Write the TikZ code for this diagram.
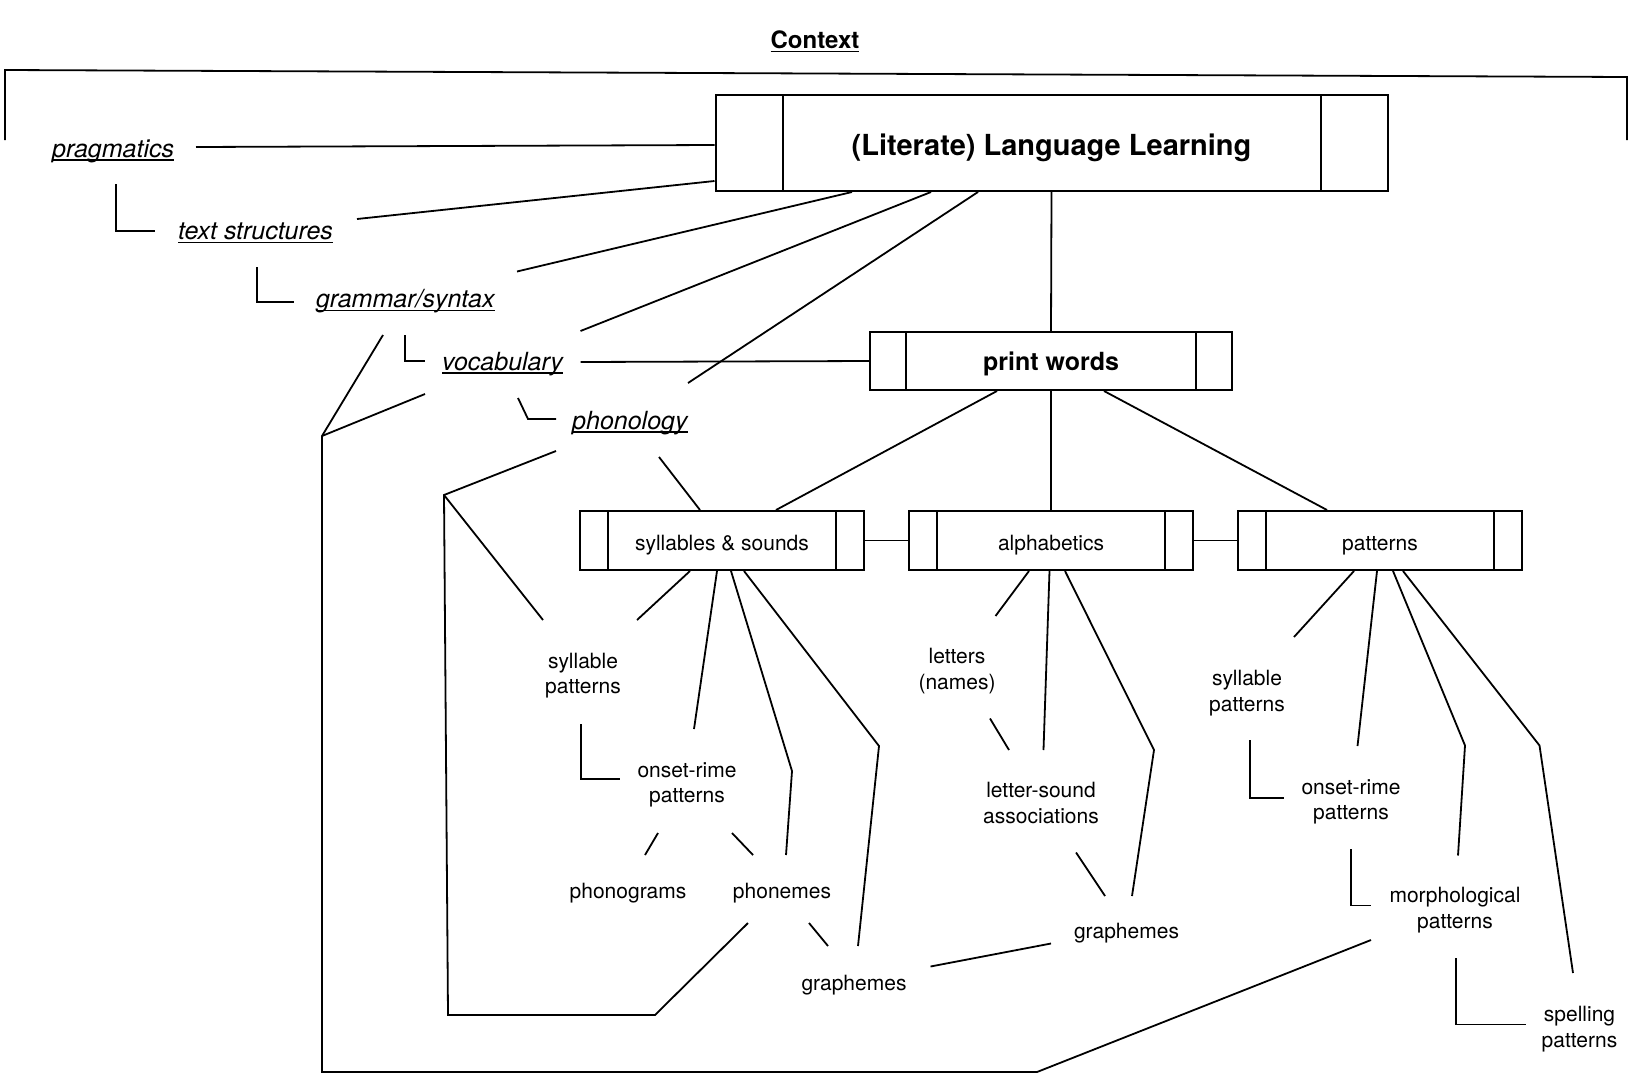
\documentclass[tikz,border=0pt]{standalone}
\usepackage{fontspec}
\setmainfont{TeX Gyre Heros}
\usetikzlibrary{calc}

\newcommand\ulword[1]{\setbox0\hbox{#1}\rlap{\rule[-3.5pt]{\wd0}{1.5pt}}\box0}

\begin{document}
\begin{tikzpicture}[
    x=1pt, y=-1pt,
    link/.style={line width=1.8pt},
    procbox/.style={draw, line width=2pt, inner sep=0pt, minimum width=284pt, minimum height=59pt,
        text height=20pt, text depth=0pt,
        font=\fontsize{21}{25}\selectfont,
        path picture={
            \draw[line width=2pt] ([xshift=#1]path picture bounding box.north west) -- ([xshift=#1]path picture bounding box.south west);
            \draw[line width=2pt] ([xshift=-#1]path picture bounding box.north east) -- ([xshift=-#1]path picture bounding box.south east);}},
    procbox/.default=28pt,
    topic/.style={font=\fontsize{25}{30}\selectfont\itshape, inner sep=0pt, anchor=base west},
    leaf/.style={font=\fontsize{21}{25.5}\selectfont, inner sep=0pt, align=center, yshift=-2pt}
]
\useasboundingbox (0,0) rectangle (1635,1079);

% Heading and frame
\node[font=\fontsize{24}{28}\selectfont\bfseries, inner sep=0pt, anchor=base] (ctx) at (815,48.5) {\ulword{Context}};
\draw[link] (5,140) -- (5,70) -- (1627,77) -- (1627,140);

% Boxes
\node[procbox=67pt, minimum width=672pt, minimum height=96pt, text height=25pt, font=\fontsize{29}{34}\selectfont\bfseries] (lll) at (1051.5,143) {(Literate) Language Learning};
\node[procbox=36pt, minimum width=361.5pt, minimum height=58pt, text height=18.5pt, font=\fontsize{25}{30}\selectfont\bfseries] (pw) at (1051,361) {print words};
\node[procbox] (ss) at (722,540.5) {syllables \& sounds};
\node[procbox] (alph) at (1051,540.5) {alphabetics};
\node[procbox] (pat) at (1380,540.5) {patterns};

% Context levels
\node[topic] (prag) at (52,157) {\ulword{pragmatics}};
\node[topic] (txt) at (178,239.5) {\ulword{text structures}};
\node[topic] (gram) at (316,307.5) {\ulword{grammar/syntax}};
\node[topic] (vocab) at (442,370) {\ulword{vocabulary}};
\node[topic] (phon) at (572,429) {\ulword{phonology}};

% Leaves
\node[leaf] (sylA) at (583,673.5) {syllable\\patterns};
\node[leaf] (onsA) at (687,783) {onset-rime\\patterns};
\node[leaf] (phgram) at (628,891) {phonograms};
\node[leaf] (phnm) at (782,891) {phonemes};
\node[leaf] (graA) at (854,983.5) {graphemes};
\node[leaf] (lett) at (957,669) {letters\\(names)};
\node[leaf] (lsnd) at (1041,801) {letter-sound\\associations};
\node[leaf] (graB) at (1126.5,931) {graphemes};
\node[leaf] (sylB) at (1247,691) {syllable\\patterns};
\node[leaf] (onsB) at (1351,800) {onset-rime\\patterns};
\node[leaf] (morph) at (1455,908) {morphological\\patterns};
\node[leaf] (spell) at (1579.5,1027) {spelling\\patterns};

% Free ends
\coordinate (pragR) at (196,147);
\coordinate (txtR) at (357,219);
\coordinate (gramR) at (517,271.5);
\coordinate (vocR) at (580.5,331);
\coordinate (vocE) at (580.5,362);
\coordinate (phonR) at (688,383);
\coordinate (phonS) at (659,457);
\coordinate (phonL) at (556,451);
\coordinate (gramL) at (383,335);
\coordinate (vocL) at (425,394);
\coordinate (knotA) at (444,495);
\coordinate (knotB) at (322,436);
\coordinate (loopA1) at (448,1015);
\coordinate (loopA2) at (655,1015);
\coordinate (loopB1) at (322,1072);
\coordinate (loopB2) at (1037,1072);
\coordinate (morphL) at (1371,940);
\coordinate (sylA1) at (543,620);
\coordinate (sylA2) at (637,620);
\coordinate (sylA3) at (581,724);
\coordinate (onsA1) at (694,729);
\coordinate (onsA2) at (620,779);
\coordinate (onsA3) at (658,833);
\coordinate (onsA4) at (732,833);
\coordinate (phgT) at (645,855);
\coordinate (phnmT) at (786,855);
\coordinate (phnmT2) at (753,855);
\coordinate (phnmL) at (748,923);
\coordinate (phnmR) at (809,923);
\coordinate (bendA1) at (792,771);
\coordinate (bendA2) at (879,746);
\coordinate (graA1) at (858,946);
\coordinate (graA2) at (828,946);
\coordinate (graA3) at (930.5,966.5);
\coordinate (lettT) at (995.5,616);
\coordinate (lettB) at (990,718.5);
\coordinate (lsndT) at (1043.5,750);
\coordinate (lsndT2) at (1009,750);
\coordinate (lsndB) at (1076,852.5);
\coordinate (bendB1) at (1154,750);
\coordinate (graB1) at (1132,896);
\coordinate (graB2) at (1105,896);
\coordinate (graBL) at (1051,943.5);
\coordinate (sylB1) at (1294,637);
\coordinate (sylB2) at (1250,740);
\coordinate (onsB1) at (1357.5,746);
\coordinate (onsB2) at (1284,798);
\coordinate (onsB3) at (1351,849);
\coordinate (bendC1) at (1465,745.5);
\coordinate (morphT) at (1458,855.5);
\coordinate (morphW) at (1371,905.5);
\coordinate (morphB) at (1456,958);
\coordinate (bendC2) at (1539.5,745.5);
\coordinate (spellT) at (1573,973);
\coordinate (spellW) at (1526,1024.5);

% Context levels to the top box
\draw[link] (pragR) -- ([yshift=-2pt]lll.west);
\draw[link] (txtR) -- ([yshift=11pt]lll.south west);
\draw[link] (gramR) -- ([xshift=-199.5pt]lll.south);
\draw[link] (vocR) -- ([xshift=-120.5pt]lll.south);
\draw[link] (phonR) -- ([xshift=-73.5pt]lll.south);
\draw[link] (116,184) |- (155,231);
\draw[link] (257,267) |- (294,302);
\draw[link] (405,335) |- (425,361);
\draw[link] (518,398) -- (528,419) -- (556,419);

% Tree
\draw[link] (lll.south) -- (pw.north);
\draw[link] (vocE) -- (pw.west);
\draw[link] ([xshift=-54pt]pw.south) -- ([xshift=54pt]ss.north);
\draw[link] (pw.south) -- (alph.north);
\draw[link] ([xshift=53pt]pw.south) -- ([xshift=-53pt]pat.north);
\draw[link] (ss) -- (alph);
\draw[link] (alph) -- (pat);

% Loops
\draw[link] (phonS) -- ([xshift=-22pt]ss.north);
\draw[link] (phonL) -- (knotA) -- (loopA1) -- (loopA2) -- (phnmL);
\draw[link] (knotA) -- (sylA1);
\draw[link] (gramL) -- (knotB) -- (loopB1) -- (loopB2) -- (morphL);
\draw[link] (vocL) -- (knotB);

% syllables & sounds
\draw[link] ([xshift=-32pt]ss.south) -- (sylA2);
\draw[link] ([xshift=-5pt]ss.south) -- (onsA1);
\draw[link] ([xshift=9pt]ss.south) -- (bendA1) -- (phnmT);
\draw[link] ([xshift=22pt]ss.south) -- (bendA2) -- (graA1);
\draw[link] (sylA3) |- (onsA2);
\draw[link] (onsA3) -- (phgT);
\draw[link] (onsA4) -- (phnmT2);
\draw[link] (phnmR) -- (graA2);

% alphabetics
\draw[link] ([xshift=-22pt]alph.south) -- (lettT);
\draw[link] ([xshift=-1.5pt]alph.south) -- (lsndT);
\draw[link] ([xshift=14pt]alph.south) -- (bendB1) -- (graB1);
\draw[link] (lettB) -- (lsndT2);
\draw[link] (lsndB) -- (graB2);
\draw[link] (graBL) -- (graA3);

% patterns
\draw[link] ([xshift=-26pt]pat.south) -- (sylB1);
\draw[link] ([xshift=-3pt]pat.south) -- (onsB1);
\draw[link] ([xshift=13pt]pat.south) -- (bendC1) -- (morphT);
\draw[link] ([xshift=23pt]pat.south) -- (bendC2) -- (spellT);
\draw[link] (sylB2) |- (onsB2);
\draw[link] (onsB3) |- (morphW);
\draw[link] (morphB) |- (spellW);
\end{tikzpicture}
\end{document}
